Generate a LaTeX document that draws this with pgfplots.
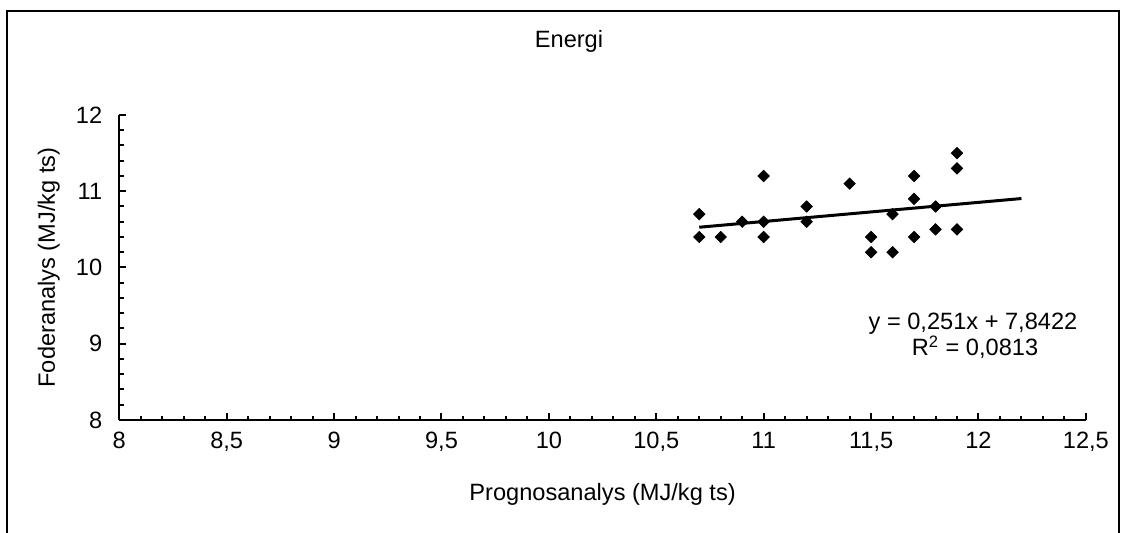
\documentclass[border=0pt]{standalone}
\usepackage{fontspec}
\setmainfont{Liberation Sans}
\usepackage{pgfplots}
\pgfplotsset{compat=1.18}
\begin{document}
\begin{tikzpicture}[font=\fontsize{11.8}{14}\selectfont, x=1pt, y=1pt]
\useasboundingbox (0,0) rectangle (560.5,266.5);
\draw[line width=0.9pt] (3.5,-10) -- (3.5,260.9) -- (559.5,260.9) -- (559.5,-10);
\begin{axis}[
  at={(59.65pt,56.5pt)}, anchor=south west,
  scale only axis, width=483.3pt, height=152.5pt,
  xmin=8, xmax=12.5, ymin=8, ymax=12,
  axis lines=left, axis line style={line width=1.1pt, -},
  xtick={8,8.5,...,12.5}, ytick={8,9,10,11,12},
  minor x tick num=4, minor y tick num=4,
  tick align=inside,
  major tick length=3.5pt, minor tick length=2.2pt,
  every tick/.style={black, line width=1pt},
  /pgf/number format/use comma,
  /pgf/number format/assume math mode=true,
  xticklabel style={yshift=-2.5pt},
  yticklabel style={xshift=-5pt},
  clip=false,
]
\addplot[only marks, mark=square*, mark size=2pt, mark options={fill=black, draw=black, rotate=45}] coordinates {
(10.7,10.7) (10.7,10.4) (10.8,10.4) (10.9,10.6) (11.0,11.2) (11.0,10.6) (11.0,10.4)
(11.2,10.8) (11.2,10.6) (11.4,11.1) (11.5,10.4) (11.5,10.2) (11.6,10.7) (11.6,10.2)
(11.7,11.2) (11.7,10.9) (11.7,10.4) (11.8,10.8) (11.8,10.5) (11.9,11.5) (11.9,11.3) (11.9,10.5)
};
\addplot[black, line width=1.5pt] coordinates {(10.7,10.5279) (12.2,10.9044)};
\end{axis}
\node[anchor=base] at (284.5,242.8) {Energi};
\node[anchor=base] at (301.3,16.2) {Prognosanalys (MJ/kg ts)};
\node[rotate=90, anchor=base] at (27.5,132.75) {Foderanalys (MJ/kg ts)};
\node[anchor=base] at (486.5,101.5) {y = 0,251x + 7,8422};
\node[anchor=base] at (487.5,88.5) {R\textsuperscript{2} = 0,0813};
\end{tikzpicture}
\end{document}
